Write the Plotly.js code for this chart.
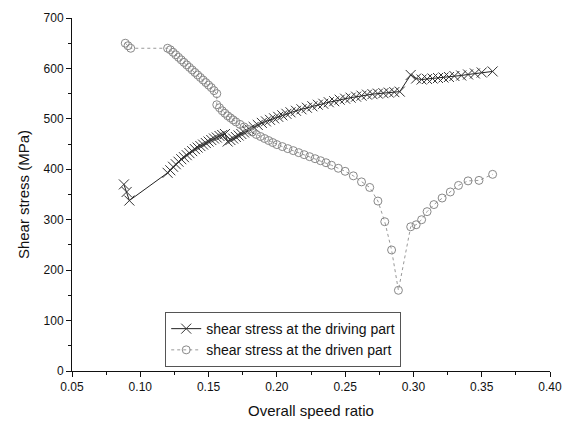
<!DOCTYPE html>
<html>
<head>
<meta charset="utf-8">
<script src="https://cdn.plot.ly/plotly-3.0.1.min.js"></script>
<style>html,body{margin:0;padding:0;background:#fff;}#chart{width:565px;height:432px;}</style>
</head>
<body>
<div id="chart"></div>
<script>
// Driving part (X markers)
const drivingX = [0.088,0.090,0.092,0.120,0.122,0.124,0.126,0.128,0.130,0.132,0.134,0.136,0.138,0.140,0.142,0.144,0.146,0.148,0.150,0.152,0.154,0.156,0.158,0.160,0.162,
  0.164,0.166,0.168,0.170,0.172,0.174,0.176,0.178,0.180,0.183,0.186,0.189,0.192,0.195,0.198,0.201,0.204,0.207,0.210,0.214,0.218,0.222,0.226,0.230,0.234,0.238,0.242,0.246,0.250,0.254,0.258,0.262,0.266,0.270,0.274,0.278,0.282,0.286,0.290,
  0.298,0.302,0.306,0.310,0.314,0.318,0.322,0.326,0.330,0.335,0.340,0.345,0.350,0.358];
const drivingY = [370,355,338,393,398,405,410,415,420,424,428,432,436,440,443,446,449,452,455,458,461,463,466,468,470,
  455,458,461,464,467,470,473,476,479,484,488,492,495,498,501,504,507,510,513,516,519,522,525,528,530,533,535,538,540,542,544,546,548,549,550,551,552,553,554,
  587,580,578,579,580,581,582,583,585,586,588,590,592,594];

// Driven part (open circles)
const drivenX = [0.089,0.091,0.093,0.120,0.122,0.124,0.126,0.128,0.130,0.132,0.134,0.136,0.138,0.140,0.142,0.144,0.146,0.148,0.150,0.152,0.154,0.156,
  0.156,0.158,0.160,0.162,0.164,0.166,0.168,0.170,0.173,0.176,0.179,0.182,0.185,0.188,0.191,0.194,0.197,0.200,0.204,0.208,0.212,0.216,0.220,0.224,0.228,0.232,0.236,0.240,0.245,0.250,0.256,0.262,0.268,0.274,0.279,0.284,0.289,
  0.298,0.302,0.306,0.310,0.315,0.321,0.327,0.333,0.340,0.348,0.358];
const drivenY = [650,645,640,640,637,632,627,622,617,612,607,602,597,592,587,582,577,572,567,562,556,550,
  528,522,516,511,506,502,498,494,489,484,479,474,469,465,461,457,453,449,445,441,437,433,429,425,421,417,413,408,402,396,387,375,364,337,296,240,160,
  286,290,300,316,330,343,355,368,377,378,390];

const labels = ["shear stress at the driving part", "shear stress at the driven part"];

const fontFam = "Liberation Sans, Arial, sans-serif";

const traces = [
  {x: drivingX, y: drivingY, name: labels[0], mode: "lines+markers",
   line: {color: "#222", width: 1},
   marker: {symbol: "x-thin-open", size: 10, color: "#333", line: {color: "#333", width: 1}}},
  {x: drivenX, y: drivenY, name: labels[1], mode: "lines+markers",
   line: {color: "#999", width: 1, dash: "dot"},
   marker: {symbol: "circle-open", size: 8, color: "#888", line: {color: "#888", width: 1}}}
];

const layout = {
  width: 565, height: 432,
  margin: {l: 72, r: 15, t: 18, b: 61},
  paper_bgcolor: "#fff", plot_bgcolor: "#fff",
  font: {family: fontFam, size: 12, color: "#111"},
  showlegend: true,
  legend: {x: 0.195, y: 0.167, xanchor: "left", yanchor: "top",
    bordercolor: "#555", borderwidth: 1, bgcolor: "rgba(255,255,255,0)",
    font: {family: fontFam, size: 14, color: "#111"}, tracegroupgap: 0},
  xaxis: {range: [0.05, 0.40], dtick: 0.05, tick0: 0.05, tickformat: ".2f",
    showgrid: false, zeroline: false, showline: true, linecolor: "#111", linewidth: 1,
    ticks: "outside", ticklen: 5, tickcolor: "#111",
    minor: {ticks: "outside", ticklen: 3, dtick: 0.025, tickcolor: "#111", showgrid: false},
    tickfont: {size: 12},
    title: {text: "Overall speed ratio", font: {size: 15}, standoff: 12}},
  yaxis: {range: [0, 700], dtick: 100,
    showgrid: false, zeroline: false, showline: true, linecolor: "#111", linewidth: 1,
    ticks: "outside", ticklen: 5, tickcolor: "#111",
    minor: {ticks: "outside", ticklen: 3, dtick: 50, tickcolor: "#111", showgrid: false},
    tickfont: {size: 12},
    title: {text: "Shear stress (MPa)", font: {size: 15}, standoff: 10}}
};

Plotly.newPlot("chart", traces, layout, {displayModeBar: false, staticPlot: true});
</script>
</body>
</html>
